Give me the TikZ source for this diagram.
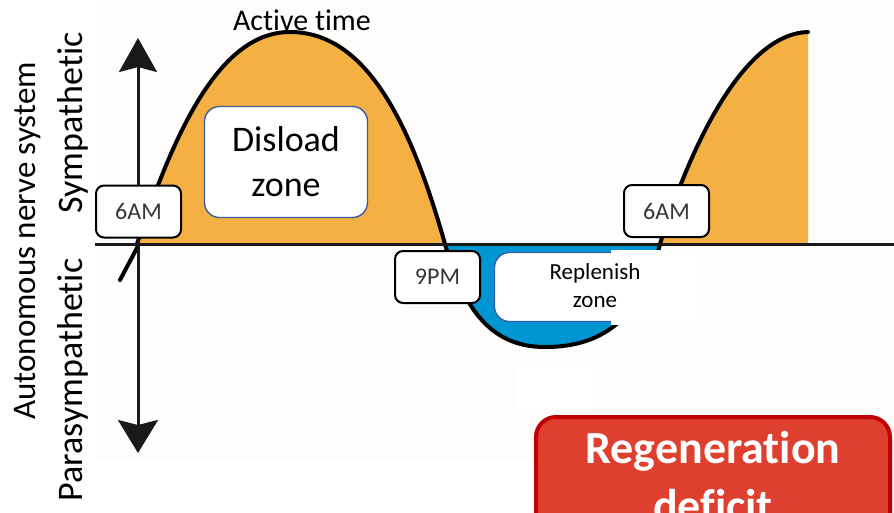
\documentclass[tikz,border=0pt]{standalone}
\usepackage{fontspec}
\setmainfont{Carlito}[Ligatures=NoCommon]
\usetikzlibrary{arrows.meta}
\definecolor{orangefill}{HTML}{F4B042}
\definecolor{bluefill}{HTML}{0096D4}
\definecolor{boxblue}{HTML}{3A5FA0}
\definecolor{redfill}{HTML}{DE3F2E}
\definecolor{redborder}{HTML}{C00000}
\definecolor{labelgray}{HTML}{363636}
\definecolor{offwhite}{HTML}{FEFDFC}
\begin{document}
\begin{tikzpicture}[x=1pt,y=-1pt,
  curve/.style={line width=4pt, line cap=round, line join=round},
  timebox/.style={draw=black, line width=2pt, fill=white, rounded corners=8pt,
    minimum width=85pt, minimum height=52pt, inner sep=0pt, text=labelgray,
    font=\fontsize{24}{28}\selectfont},
  zonebox/.style={draw=boxblue, line width=1.4pt, fill=white, rounded corners=15pt, inner sep=0pt},
  sidelabel/.style={rotate=90, anchor=base, inner sep=0pt}
]
\useasboundingbox (0,0) rectangle (894,512);
\clip (0,0) rectangle (894,512);
% background
\fill[white] (0,0) rectangle (894,512);
\fill[offwhite] (96,0) rectangle (894,460);
\fill[white] (517,365) rectangle (593,410);

% fills
\fill[orangefill] (137,244) .. controls (175,130) and (220,32) .. (290,32)
  .. controls (365,32) and (410,120) .. (445,244) -- cycle;
\fill[bluefill] (445,244) .. controls (465,315) and (495,347) .. (545,347)
  .. controls (590,347) and (640,330) .. (660,244) -- cycle;
\fill[orangefill] (660,244) .. controls (684,165) and (738,34) .. (808,32)
  -- (808,244) -- cycle;

% curves
\draw[curve] (137,244) .. controls (175,130) and (220,32) .. (290,32)
  .. controls (365,32) and (410,120) .. (445,244);
\draw[curve] (445,244) .. controls (465,315) and (495,347) .. (545,347)
  .. controls (590,347) and (640,330) .. (660,244);
\draw[curve] (660,244) .. controls (684,165) and (738,34) .. (808,32);
\coordinate (tailA) at (120,280);
\coordinate (tailB) at (138,246);
\draw[curve] (tailA) -- (tailB);

% baseline
\coordinate (baseL) at (95,244);
\coordinate (baseR) at (894,244);
\draw[line width=3pt, black!90] (baseL) -- (baseR);

% vertical axis
\coordinate (axtop) at (138,38);
\coordinate (axbot) at (138,453);
\draw[line width=3pt, black!90,
  {Stealth[length=34pt,width=38pt,inset=5pt]}-{Stealth[length=33pt,width=40pt,inset=5pt]}]
  (axtop) -- (axbot);

% labels on curve
\node[anchor=base, inner sep=0pt, font=\fontsize{30}{34}\selectfont] (active) at (302,30) {Active time};

\node[timebox] (am1) at (138.5,211.5) {6AM};
\node[timebox] (pm9) at (437.5,277) {9PM};
\node[timebox] (am2) at (666.5,211) {6AM};

\node[zonebox, minimum width=163pt, minimum height=111pt, align=center,
  font=\fontsize{36}{45}\selectfont] (disload) at (286,162) {Disload\\zone};

\node[zonebox, minimum width=201pt, minimum height=69pt] (replbox) at (595,287) {};
\fill[white] (611,249.5) rectangle (698,325);
\node[align=center, inner sep=0pt, font=\fontsize{23}{28}\selectfont] (repltext) at (595,286) {Replenish\\zone};

% regeneration deficit
\node[draw=redborder, line width=4pt, fill=redfill, rounded corners=20pt,
  minimum width=354pt, minimum height=150pt, inner sep=0pt] (regenbox) at (713,492) {};
\node[anchor=base, inner sep=0pt, text=white, font=\fontsize{46}{54}\selectfont\bfseries] (regen1) at (713,463) {Regeneration};
\node[anchor=base, inner sep=0pt, text=white, font=\fontsize{46}{54}\selectfont\bfseries] (regen2) at (713,521) {deficit};

% side labels
\node[sidelabel, font=\fontsize{36}{40}\selectfont] (symp) at (82,123) {Sympathetic};
\node[sidelabel, font=\fontsize{36}{40}\selectfont] (parasymp) at (82,380) {Parasympathetic};
\node[sidelabel, font=\fontsize{33}{38}\selectfont] (ans) at (35,241) {Autonomous nerve system};
\end{tikzpicture}
\end{document}
